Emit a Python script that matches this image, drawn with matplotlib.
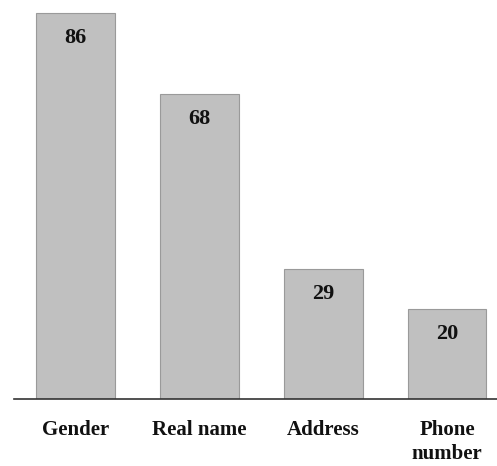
import matplotlib
matplotlib.use("Agg")
import matplotlib.pyplot as plt

categories = ["Gender", "Real name", "Address", "Phone\nnumber"]
values = [86, 68, 29, 20]

W, H, DPI = 497, 466, 100
fig = plt.figure(figsize=(W / DPI, H / DPI), dpi=DPI)
left_px, right_px, base_px = 13.5, 497, 399
ax = fig.add_axes([left_px / W, (H - base_px) / H, (right_px - left_px) / W, base_px / H])

font = dict(family=["Liberation Serif", "DejaVu Serif"], weight="bold")

x = list(range(len(categories)))
ax.bar(x, values, width=0.635, color="#c0c0c0", edgecolor="#9a9a9a", linewidth=0.8)

ax.set_xlim(-0.5, 3.5 - 12 / 124)
ax.set_ylim(0, base_px / 4.49)

for xi, v in zip(x, values):
    ax.annotate(str(v), xy=(xi, v), xytext=(0, -18), textcoords="offset points",
                ha="center", va="center", color="#111111", size=16, **font)

ax.set_xticks(x)
ax.set_xticklabels(categories, color="#111111", size=15, linespacing=1.3, **font)
ax.tick_params(axis="x", length=0, pad=15)
ax.set_yticks([])
for side in ("top", "left", "right"):
    ax.spines[side].set_visible(False)
ax.spines["bottom"].set_color("#333333")
ax.spines["bottom"].set_linewidth(1.2)

fig.savefig("out.png", dpi=DPI)
